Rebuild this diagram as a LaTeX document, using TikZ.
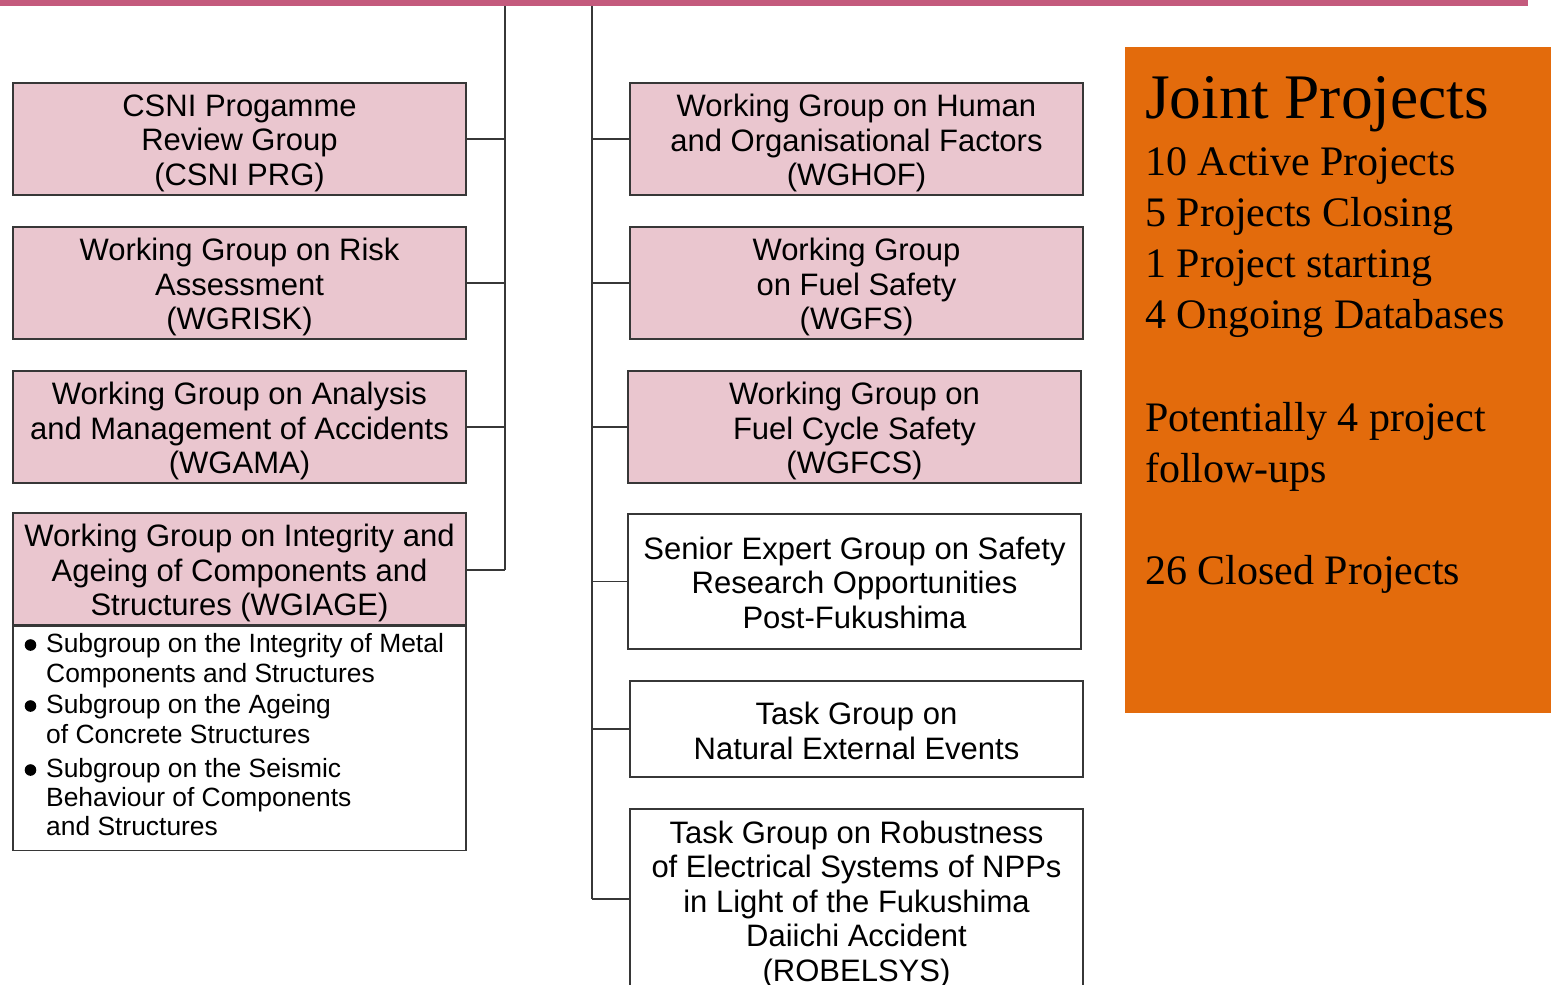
\documentclass[tikz,border=0pt]{standalone}
\usepackage{fontspec}
\setmainfont{Liberation Serif}
\newfontfamily\boxfont{Liberation Sans}
\definecolor{topline}{RGB}{196,90,125}
\definecolor{pinkfill}{RGB}{234,198,207}
\definecolor{boxline}{RGB}{55,55,55}
\definecolor{orangebg}{RGB}{227,107,12}
\tikzset{
  gbox/.style={draw=boxline, line width=1.5pt, inner sep=0pt},
  pbox/.style={gbox, fill=pinkfill},
  wbox/.style={gbox, fill=white},
  boxtext/.style={inner sep=0pt, align=center, yshift=-4pt,
    font=\boxfont\fontsize{31}{34.5}\selectfont},
  conn/.style={draw=boxline, line width=1.5pt},
  sublist/.style={anchor=base west, inner sep=0pt, font=\boxfont\fontsize{26.4}{29.5}\selectfont},
  bulletdot/.style={fill=black},
  jptitle/.style={anchor=base west, inner sep=0pt, font=\fontsize{63.5}{70}\selectfont},
  jpline/.style={anchor=base west, inner sep=0pt, font=\fontsize{42}{51}\selectfont}
}
\begin{document}
\begin{tikzpicture}[x=1pt,y=-1pt]
\useasboundingbox (0,0) rectangle (1551,985);
\clip (0,0) rectangle (1551,985);
% top line
\fill[topline] (0,0) rectangle (1528,6);
% orange box
\fill[orangebg] (1125,47) rectangle (1551,713);

% trunk coordinates
\coordinate (ltop) at (505,6);
\coordinate (lbot) at (505,570);
\coordinate (rtop) at (592,6);
\coordinate (rbot) at (592,899);

% left column
\node[pbox, minimum width=453, minimum height=112,
  label={[boxtext]center:{CSNI Progamme\\Review Group\\(CSNI PRG)}}] (prg) at (239.5,139) {};
\node[pbox, minimum width=453, minimum height=112,
  label={[boxtext]center:{Working Group on Risk\\Assessment\\(WGRISK)}}] (risk) at (239.5,283) {};
\node[pbox, minimum width=453, minimum height=112,
  label={[boxtext]center:{Working Group on Analysis\\and Management of Accidents\\(WGAMA)}}] (gama) at (239.5,427) {};
\node[pbox, minimum width=453, minimum height=112,
  label={[boxtext]center:{Working Group on Integrity and\\Ageing of Components and\\Structures (WGIAGE)}}] (iage) at (239.5,569) {};
\node[wbox, minimum width=453, minimum height=224, anchor=north] (iagesub) at (iage.south) {};
\fill[bulletdot] (30.5,645) circle (5.8);
\fill[bulletdot] (30.5,706) circle (5.8);
\fill[bulletdot] (30.5,770) circle (5.8);
\node[sublist] (s1a) at (46,652) {Subgroup on the Integrity of Metal};
\node[sublist] (s1b) at (46,682) {Components and Structures};
\node[sublist] (s2a) at (46,713) {Subgroup on the Ageing};
\node[sublist] (s2b) at (46,743) {of Concrete Structures};
\node[sublist] (s3a) at (46,777) {Subgroup on the Seismic};
\node[sublist] (s3b) at (46,806) {Behaviour of Components};
\node[sublist] (s3c) at (46,835) {and Structures};

% right column
\node[pbox, minimum width=453, minimum height=112,
  label={[boxtext]center:{Working Group on Human\\and Organisational Factors\\(WGHOF)}}] (hof) at (856.5,139) {};
\node[pbox, minimum width=453, minimum height=112,
  label={[boxtext]center:{Working Group\\on Fuel Safety\\(WGFS)}}] (fs) at (856.5,283) {};
\node[pbox, minimum width=453, minimum height=112,
  label={[boxtext]center:{Working Group on\\Fuel Cycle Safety\\(WGFCS)}}] (fcs) at (854.5,427) {};
\node[wbox, minimum width=453, minimum height=135,
  label={[boxtext, yshift=3pt]center:{Senior Expert Group on Safety\\Research Opportunities\\Post-Fukushima}}] (segsro) at (854.5,581.5) {};
\node[wbox, minimum width=453, minimum height=96,
  label={[boxtext, yshift=2pt]center:{Task Group on\\Natural External Events}}] (nee) at (856.5,729) {};
\node[wbox, minimum width=453, minimum height=182,
  label={[boxtext]center:{Task Group on Robustness\\of Electrical Systems of NPPs\\in Light of the Fukushima\\Daiichi Accident\\(ROBELSYS)}}] (robel) at (856.5,900) {};

% connectors
\draw[conn] (ltop) -- (lbot);
\draw[conn] (rtop) -- (rbot);
\draw[conn] (prg.east) -- (prg.east -| ltop);
\draw[conn] (risk.east) -- (risk.east -| ltop);
\draw[conn] (gama.east) -- (gama.east -| ltop);
\draw[conn] (iage.east |- lbot) -- (lbot);
\draw[conn] (hof.west) -- (hof.west -| rtop);
\draw[conn] (fs.west) -- (fs.west -| rtop);
\draw[conn] (fcs.west) -- (fcs.west -| rtop);
\draw[conn] (segsro.west) -- (segsro.west -| rtop);
\draw[conn] (nee.west) -- (nee.west -| rtop);
\draw[conn] (robel.west |- rbot) -- (rbot);

% joint projects text
\node[jptitle] (jp) at (1145,118) {Joint Projects};
\node[jpline] (jp1) at (1145,175) {10 Active Projects};
\node[jpline] (jp2) at (1145,226) {5 Projects Closing};
\node[jpline] (jp3) at (1145,277) {1 Project starting};
\node[jpline] (jp4) at (1145,328) {4 Ongoing Databases};
\node[jpline] (jp5) at (1145,431) {Potentially 4 project};
\node[jpline] (jp6) at (1145,482) {follow-ups};
\node[jpline] (jp7) at (1145,584) {26 Closed Projects};
\end{tikzpicture}
\end{document}
